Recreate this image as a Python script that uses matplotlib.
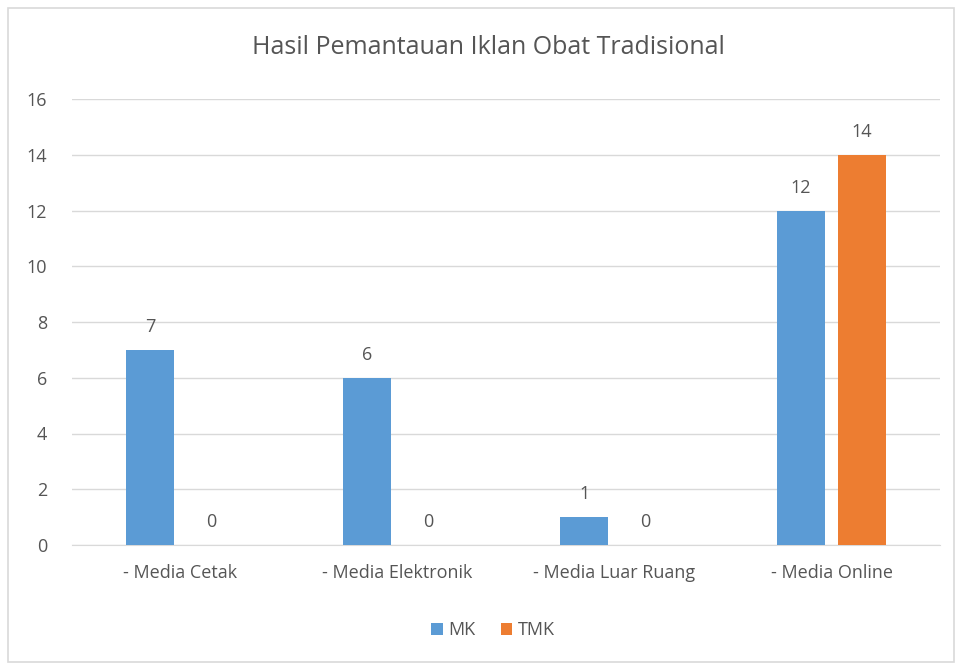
import matplotlib
matplotlib.use("Agg")
import matplotlib.pyplot as plt
from matplotlib.patches import Rectangle
import numpy as np

categories = ["- Media Cetak", "- Media Elektronik", "- Media Luar Ruang", "- Media Online"]
mk = [7, 6, 1, 12]
tmk = [0, 0, 0, 14]
series_names = ["MK", "TMK"]
title = "Hasil Pemantauan Iklan Obat Tradisional"
yticks = [0, 2, 4, 6, 8, 10, 12, 14, 16]

plt.rcParams['font.family'] = ['Open Sans', 'DejaVu Sans']
txt = '#555555'

fig = plt.figure(figsize=(9.55, 6.65), dpi=100)
fig.patches.append(Rectangle((8/955, 3/665), 946/955, 654/665, transform=fig.transFigure,
                             fill=False, edgecolor='#D9D9D9', linewidth=1.2))
ax = fig.add_axes([72/955, 1-545/665, (940-72)/955, (545-99)/665])

x = np.arange(len(categories))
w = 0.22
off = 0.14
b1 = ax.bar(x - off, mk, w, color='#5B9BD5', label=series_names[0], zorder=3)
b2 = ax.bar(x + off, tmk, w, color='#ED7D31', label=series_names[1], zorder=3)
for bars in (b1, b2):
    ax.bar_label(bars, padding=10, fontsize=13, color=txt)

ax.set_xlim(-0.5, 3.5)
ax.set_ylim(0, 16)
ax.set_yticks(yticks)
ax.set_xticks(x)
ax.set_xticklabels(categories)
ax.tick_params(axis='both', length=0, labelsize=13, labelcolor=txt)
ax.tick_params(axis='y', pad=18)
ax.tick_params(axis='x', pad=14)
ax.yaxis.grid(True, color='#D9D9D9', linewidth=1, zorder=0)
for s in ['top', 'right', 'left']:
    ax.spines[s].set_visible(False)
ax.spines['bottom'].set_color('#D9D9D9')
ax.set_axisbelow(True)

fig.text(488/955, 1-48/665, title, ha='center', va='center', fontsize=18, color=txt)
fig.legend(loc='center', bbox_to_anchor=(493/955, 1-630/665), ncol=2, frameon=False,
           fontsize=13, labelcolor=txt, handlelength=0.65, handleheight=0.65,
           handletextpad=0.3, columnspacing=1.4)

fig.savefig("out.png", dpi=100, facecolor='white')
